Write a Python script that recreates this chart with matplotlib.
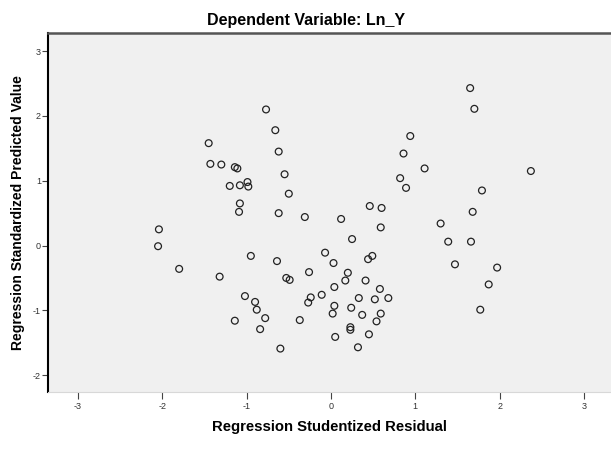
#! /usr/bin/env python
# coding: utf-8

import numpy as np
from matplotlib import pyplot as plt

# studentized residual (x) / standardized predicted value (y)
resid = [-0.77, -0.66, -1.45, -0.62, -1.43, -1.30, -1.14, -1.11, -0.55, -1.20,
         -1.08, -0.99, -0.98, -0.50, -1.08, -1.09, -0.62, -0.31,
         1.65, 1.70, 0.94, 0.86, 1.11, 2.37, 0.82, 0.89, 1.79, 0.46,
         0.60, 1.68, 0.12,
         -2.04, -2.05, -1.80, -1.32, -0.95, -0.64, -0.07, 0.03, -0.26, -0.53,
         -0.49, 0.04, -0.11, -0.24, -0.27, -1.02, -0.90, -0.88, -0.78, -1.14,
         -0.37, 0.04, 0.02, -0.84, 0.05, -0.60,
         0.59, 0.25, 1.30, 1.39, 1.66, 1.47, 1.97, 1.87, 1.77, 0.44,
         0.49, 0.20, 0.17, 0.41, 0.58, 0.33, 0.52, 0.68, 0.24, 0.37,
         0.59, 0.54, 0.23, 0.23, 0.45, 0.32]
pred = [2.10, 1.78, 1.58, 1.45, 1.26, 1.25, 1.21, 1.19, 1.10, 0.92,
        0.93, 0.98, 0.91, 0.80, 0.65, 0.52, 0.50, 0.44,
        2.43, 2.11, 1.69, 1.42, 1.19, 1.15, 1.04, 0.89, 0.85, 0.61,
        0.58, 0.52, 0.41,
        0.25, -0.01, -0.36, -0.48, -0.16, -0.24, -0.11, -0.27, -0.41, -0.50,
        -0.53, -0.64, -0.76, -0.80, -0.88, -0.78, -0.87, -0.99, -1.12, -1.16,
        -1.15, -0.93, -1.05, -1.29, -1.41, -1.59,
        0.28, 0.10, 0.34, 0.06, 0.06, -0.29, -0.34, -0.60, -0.99, -0.21,
        -0.16, -0.42, -0.54, -0.54, -0.67, -0.81, -0.83, -0.81, -0.96, -1.07,
        -1.05, -1.17, -1.26, -1.30, -1.37, -1.57]

xticks = [-3, -2, -1, 0, 1, 2, 3]
yticks = [3, 2, 1, 0, -1, -2]

plt.rcParams['font.family'] = 'sans-serif'
plt.rcParams['font.sans-serif'] = ['Liberation Sans', 'DejaVu Sans']
plt.rcParams['axes.unicode_minus'] = False

fig = plt.figure(figsize=(6.11, 4.51), dpi=100)
ax = fig.add_axes([48 / 611, 59 / 451, 563 / 611, 359 / 451])
ax.set_facecolor('#f0f0f0')

ax.scatter(resid, pred, s=24, facecolors='none', edgecolors='#222222', linewidths=0.9)

ax.set_xlim(-3.355, 3.32)
ax.set_ylim(-2.26, 3.28)
ax.set_xticks(xticks)
ax.set_yticks(yticks)
ax.tick_params(axis='both', labelsize=6.5, labelcolor='#333333')
ax.tick_params(axis='y', length=4, width=0.8, color='#444444', pad=1)
ax.tick_params(axis='x', length=5, width=0.8, color='#444444', pad=2)

ax.spines['right'].set_visible(False)
ax.spines['left'].set_color('black')
ax.spines['left'].set_linewidth(1.5)
ax.spines['top'].set_color('#555555')
ax.spines['top'].set_linewidth(1.8)
ax.spines['bottom'].set_color('#d8d8d8')
ax.spines['bottom'].set_linewidth(0.8)

ax.set_xlabel("Regression Studentized Residual", fontsize=10.7, fontweight='bold', labelpad=7)
ax.set_ylabel("Regression Standardized Predicted Value", fontsize=10, fontweight='bold', labelpad=6)

fig.text(306 / 611, 1 - 21 / 451, "Dependent Variable: Ln_Y", fontsize=11.5,
         fontweight='bold', ha='center', va='center')

plt.savefig("out.png", dpi=100)
